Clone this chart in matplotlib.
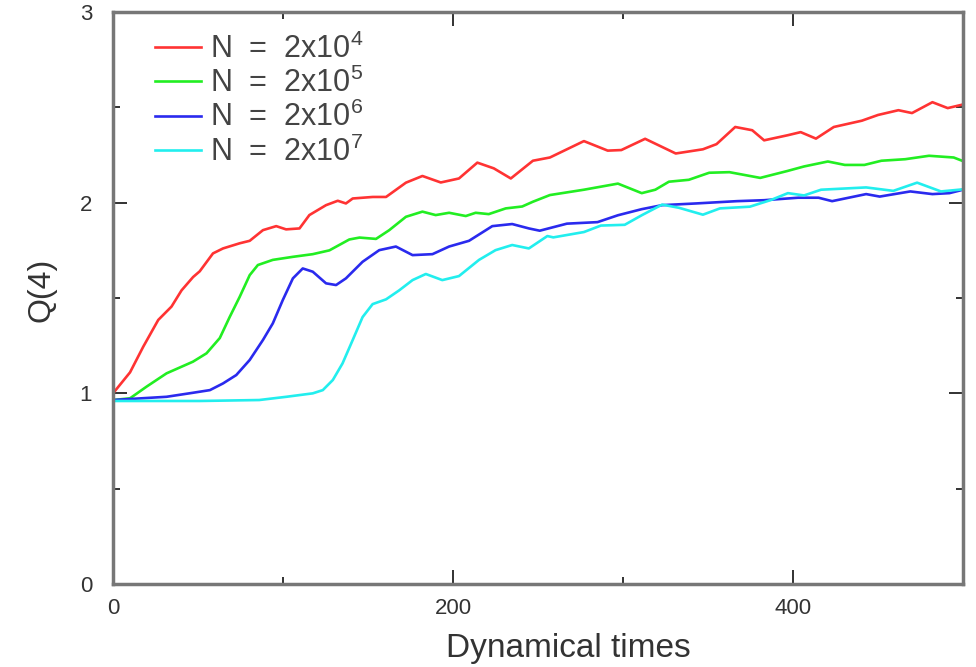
import matplotlib
matplotlib.use("Agg")
import matplotlib.pyplot as plt
import numpy as np
from matplotlib.ticker import MultipleLocator

plt.rcParams['font.family'] = ['Liberation Sans', 'DejaVu Sans']
plt.rcParams['mathtext.fontset'] = 'custom'
plt.rcParams['mathtext.rm'] = 'Liberation Sans'
plt.rcParams['mathtext.it'] = 'Liberation Sans'

# N = 2x10^4 (red)
t_red = [0, 10, 17.8, 26.6, 34.4, 40.3, 47.1, 51, 58.8, 64.7, 74.5, 80.4, 88.2, 96, 101.8, 109.7,
         115.5, 125.3, 132.2, 137, 141, 152.8, 160.6, 172.3, 182, 192.8, 203.5, 214.3, 224, 234,
         247, 257, 277, 291, 299, 313, 331, 347, 355, 366, 376, 383, 397, 404.5, 413.5, 424,
         440.5, 450, 462, 470, 482, 491, 500]
q_red = [1.0, 1.11, 1.245, 1.385, 1.455, 1.54, 1.61, 1.64, 1.734, 1.76, 1.787, 1.80, 1.856, 1.877,
         1.86, 1.865, 1.935, 1.987, 2.01, 1.996, 2.022, 2.03, 2.03, 2.105, 2.14, 2.106, 2.127, 2.21,
         2.18, 2.127, 2.22, 2.237, 2.323, 2.273, 2.276, 2.335, 2.258, 2.28, 2.307, 2.397, 2.38,
         2.327, 2.354, 2.37, 2.336, 2.397, 2.43, 2.46, 2.485, 2.47, 2.527, 2.496, 2.515]

# N = 2x10^5 (green)
t_green = [0, 10, 19.7, 31.5, 47, 55, 62.8, 68.6, 74.5, 80.4, 85.2, 94, 105.8, 117.5, 127.3, 139,
           145, 154.7, 162.5, 172.3, 182, 189.8, 197.7, 207.5, 213.3, 221, 231, 240.7, 247, 257,
           277, 297, 311, 319, 327, 338.7, 350.7, 362.6, 380.7, 396.6, 406.5, 420.5, 430.5, 442,
           452, 466, 480, 494.5, 500]
q_green = [0.965, 0.974, 1.035, 1.105, 1.166, 1.21, 1.29, 1.40, 1.506, 1.62, 1.673, 1.70, 1.716,
           1.73, 1.75, 1.807, 1.817, 1.81, 1.856, 1.926, 1.953, 1.935, 1.947, 1.93, 1.947, 1.94,
           1.97, 1.98, 2.005, 2.04, 2.068, 2.10, 2.05, 2.068, 2.11, 2.12, 2.157, 2.16, 2.13, 2.166,
           2.19, 2.216, 2.198, 2.198, 2.22, 2.228, 2.246, 2.237, 2.218]

# N = 2x10^6 (blue)
t_blue = [0, 31.5, 47, 57, 64.7, 72.5, 80.4, 88.2, 94, 99.9, 105.8, 111.6, 117.5, 125.3, 131.2,
          137, 146.8, 156.6, 166.4, 176.2, 187.9, 197.7, 209.4, 223.1, 234.8, 244.6, 251, 267,
          285, 297, 311, 323, 343, 367, 383, 403, 415, 423, 443, 451, 469, 482, 492, 500]
q_blue = [0.965, 0.982, 1.003, 1.017, 1.052, 1.096, 1.175, 1.28, 1.367, 1.49, 1.603, 1.655, 1.638,
          1.577, 1.568, 1.603, 1.69, 1.751, 1.77, 1.725, 1.73, 1.77, 1.80, 1.877, 1.888, 1.865,
          1.853, 1.89, 1.898, 1.934, 1.966, 1.987, 1.996, 2.008, 2.013, 2.026, 2.026, 2.008,
          2.045, 2.032, 2.059, 2.045, 2.05, 2.068]

# N = 2x10^7 (cyan)
t_cyan = [0, 31.5, 51, 86, 102, 117.5, 123.4, 129.3, 135, 141, 146.8, 152.7, 160.6, 168.3, 176.2,
          184, 193.7, 203.5, 215.3, 225, 234.8, 244.6, 255.5, 259, 277, 287, 301, 311, 323, 333,
          347, 357, 374.6, 387, 397, 406.5, 416.5, 443, 459, 473, 487, 500]
q_cyan = [0.96, 0.96, 0.96, 0.965, 0.982, 1.0, 1.017, 1.07, 1.157, 1.28, 1.40, 1.468, 1.493, 1.54,
          1.594, 1.626, 1.594, 1.615, 1.70, 1.751, 1.778, 1.76, 1.825, 1.818, 1.846, 1.88, 1.884,
          1.934, 1.99, 1.973, 1.937, 1.97, 1.979, 2.014, 2.05, 2.038, 2.068, 2.08, 2.062, 2.105,
          2.059, 2.07]

labels = [r'N  =  2x10$^{4}$', r'N  =  2x10$^{5}$', r'N  =  2x10$^{6}$', r'N  =  2x10$^{7}$']
colors = ['#ff3333', '#22ee22', '#2a2aee', '#22eeee']

fig = plt.figure(figsize=(9.76, 6.67), dpi=100)
ax = fig.add_axes([0.1158, 0.1244, 0.8709, 0.8576])

series = [(t_red, q_red), (t_green, q_green), (t_blue, q_blue), (t_cyan, q_cyan)]
for (t, q), c, lab in zip(series, colors, labels):
    ax.plot(t, q, color=c, lw=1.9, label=lab)

ax.set_xlim(0, 500)
ax.set_ylim(0, 3)
ax.xaxis.set_major_locator(MultipleLocator(200))
ax.xaxis.set_minor_locator(MultipleLocator(100))
ax.yaxis.set_major_locator(MultipleLocator(1))
ax.yaxis.set_minor_locator(MultipleLocator(0.5))
ax.tick_params(which='both', direction='in', top=True, right=True, color='#222222',
               labelcolor='#333333', labelsize=16)
ax.tick_params(which='major', length=10, width=1.3)
ax.tick_params(axis='x', which='major', pad=10)
ax.tick_params(axis='y', which='major', pad=15)
ax.tick_params(which='minor', length=5, width=1.3)
for s in ax.spines.values():
    s.set_color('#777777')
    s.set_linewidth(2.5)

ax.set_xlabel('Dynamical times', fontsize=24, color='#333333')
ax.xaxis.set_label_coords(0.536, -0.085)
ax.set_ylabel('Q(4)', fontsize=23, color='#333333')
ax.yaxis.set_label_coords(-0.066, 0.515)

leg = ax.legend(loc='upper left', bbox_to_anchor=(0.024, 1.0), frameon=False, fontsize=22,
                handlelength=1.5, handletextpad=0.3, labelspacing=0.1, borderaxespad=0.3)
for txt in leg.get_texts():
    txt.set_color('#444444')

fig.savefig('out.png', dpi=100)
